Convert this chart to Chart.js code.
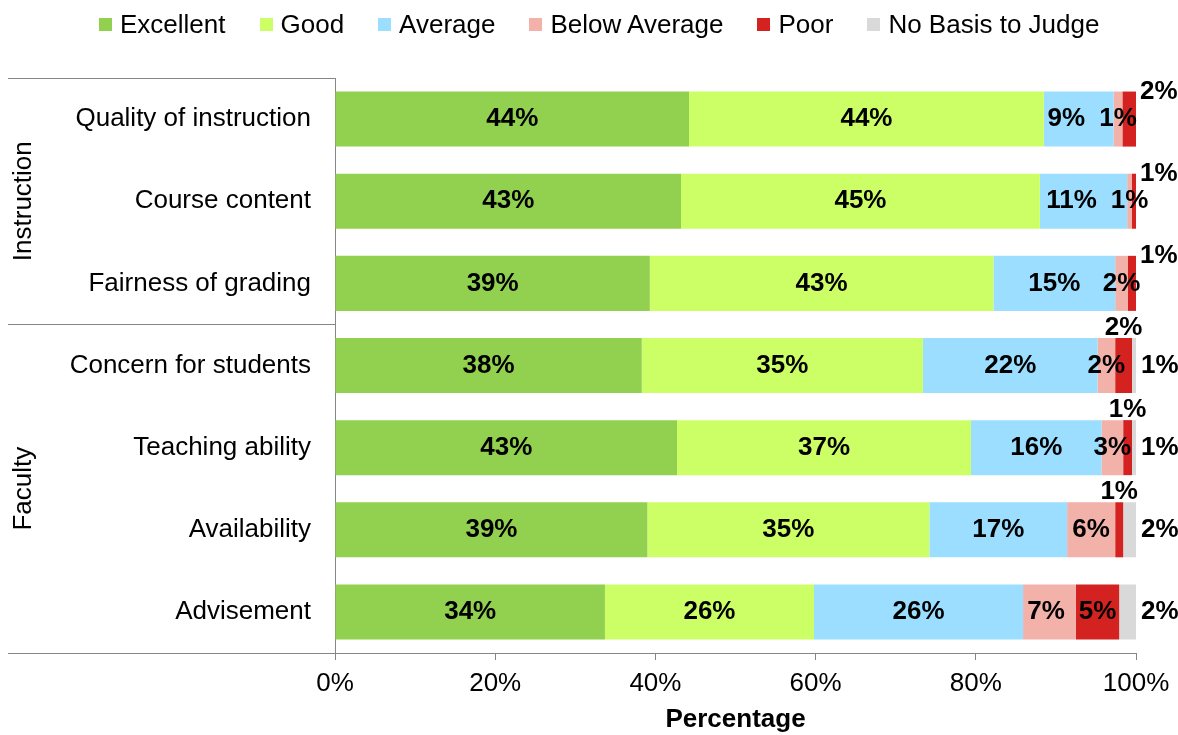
<!DOCTYPE html>
<html>
<head>
<meta charset="utf-8">
<script src="https://cdn.jsdelivr.net/npm/chart.js@4.4.1/dist/chart.umd.min.js"></script>
<style>
  body { margin: 0; background: #fff; }
  #wrap { position: relative; width: 1178px; height: 735px; }
  #legend {
    position: absolute; top: 9px; left: 99px;
    display: flex; font: 26px "Liberation Sans", Arial, sans-serif; color: #000;
  }
  #legend .item { display: flex; align-items: center; height: 30px; line-height: 30px; margin-right: 34px; white-space: nowrap; }
  #legend .box { width: 13px; height: 13px; margin: 1px 8px 0 0; }
</style>
</head>
<body>
<div id="wrap">
  <canvas id="chart" width="1178" height="735"></canvas>
  <div id="legend"></div>
</div>
<script>
const categories = ['Quality of instruction', 'Course content', 'Fairness of grading',
  'Concern for students', 'Teaching ability', 'Availability', 'Advisement'];
const groupNames = ['Instruction', 'Faculty'];
const groupSizes = [3, 4];

const seriesNames = ['Excellent', 'Good', 'Average', 'Below Average', 'Poor', 'No Basis to Judge'];
const seriesColors = ['#92D050', '#CCFF66', '#9BDEFF', '#F2B1A9', '#D3221F', '#D9D9D9'];

const excellent    = [44.2, 43.2, 39.3, 38.3, 42.7, 39.0, 33.7];
const good         = [44.3, 44.8, 42.9, 35.1, 36.7, 35.2, 26.1];
const average      = [8.7, 10.9, 15.2, 21.8, 16.3, 17.2, 26.1];
const belowAverage = [1.1, 0.6, 1.6, 2.2, 2.7, 6.0, 6.6];
const poor         = [1.7, 0.5, 1.0, 2.1, 1.1, 1.0, 5.4];
const noBasis      = [0, 0, 0, 0.5, 0.5, 1.6, 2.1];

const xTickValues = [0, 20, 40, 60, 80, 100];

const FONT = '"Liberation Sans", Arial, sans-serif';
const GRAY = '#868686';
const POOR = 4, NO_BASIS = 5;
const LABEL_GAP = 14;

// html legend
const legendEl = document.getElementById('legend');
seriesNames.forEach((name, i) => {
  const item = document.createElement('div');
  item.className = 'item';
  item.innerHTML = `<span class="box" style="background:${seriesColors[i]}"></span><span>${name}</span>`;
  legendEl.appendChild(item);
});

// percent labels on the stacked segments
const barLabels = {
  id: 'barLabels',
  afterDatasetsDraw(chart) {
    const ctx = chart.ctx;
    const datasets = chart.data.datasets;
    const lastMeta = chart.getDatasetMeta(datasets.length - 1);
    ctx.save();
    ctx.font = 'bold 26px ' + FONT;
    ctx.fillStyle = '#000';
    ctx.textBaseline = 'middle';

    chart.data.labels.forEach((_, i) => {
      const rowEnd = lastMeta.data[i].x;
      const inside = [];
      datasets.forEach((ds, di) => {
        const v = ds.data[i];
        if (!v) return;
        const bar = chart.getDatasetMeta(di).data[i];
        const { x, y, base, height } = bar.getProps(['x', 'y', 'base', 'height'], true);
        const text = Math.round(v) + '%';
        if (di === NO_BASIS) {
          ctx.textAlign = 'left';
          ctx.fillText(text, rowEnd + 5, y);
        } else if (di === POOR && v < 3) {
          if (noBasis[i] > 0) {
            ctx.textAlign = 'center';
            ctx.fillText(text, (x + base) / 2, y - height / 2 - 10);
          } else {
            ctx.textAlign = 'left';
            ctx.fillText(text, rowEnd + 4, y - height / 2);
          }
        } else {
          inside.push({ text, x: (x + base) / 2, y, w: ctx.measureText(text).width });
        }
      });
      // nudge crowded labels left so neighbours don't run together
      for (let k = inside.length - 2; k >= 0; k--) {
        const a = inside[k], b = inside[k + 1];
        const limit = b.x - b.w / 2 - LABEL_GAP - a.w / 2;
        if (a.x > limit) a.x = limit;
      }
      ctx.textAlign = 'center';
      inside.forEach(l => ctx.fillText(l.text, l.x, l.y));
    });
    ctx.restore();
  }
};

// group brackets on the left of the category axis
const groupAxis = {
  id: 'groupAxis',
  afterDraw(chart) {
    const ctx = chart.ctx;
    const yScale = chart.scales.y;
    const left = 8, right = chart.chartArea.left;
    ctx.save();
    ctx.strokeStyle = GRAY;
    ctx.lineWidth = 1;
    ctx.fillStyle = '#000';
    ctx.font = '26px ' + FONT;
    ctx.textAlign = 'center';
    ctx.textBaseline = 'middle';
    let start = 0;
    groupSizes.forEach((n, g) => {
      const top = yScale.getPixelForValue(start - 0.5);
      const bottom = yScale.getPixelForValue(start + n - 0.5);
      [top, bottom].forEach(py => {
        const yy = Math.round(py) + 0.5;
        ctx.beginPath();
        ctx.moveTo(left, yy);
        ctx.lineTo(right, yy);
        ctx.stroke();
      });
      ctx.save();
      ctx.translate(24, (top + bottom) / 2);
      ctx.rotate(-Math.PI / 2);
      ctx.fillText(groupNames[g], 0, 0);
      ctx.restore();
      start += n;
    });
    ctx.restore();
  }
};

const seriesData = [excellent, good, average, belowAverage, poor, noBasis];

new Chart(document.getElementById('chart'), {
  type: 'bar',
  data: {
    labels: categories,
    datasets: seriesNames.map((name, i) => ({
      label: name,
      data: seriesData[i],
      backgroundColor: seriesColors[i],
      borderWidth: 0,
      barPercentage: 0.67,
      categoryPercentage: 1
    }))
  },
  options: {
    indexAxis: 'y',
    responsive: false,
    animation: false,
    layout: { padding: { top: 78, right: 42, left: 0, bottom: 0 } },
    plugins: {
      legend: { display: false },
      tooltip: { enabled: false }
    },
    scales: {
      x: {
        stacked: true,
        min: 0,
        max: 100,
        afterBuildTicks: s => { s.ticks = xTickValues.map(v => ({ value: v })); },
        afterFit: s => { s.height = 82; },
        grid: { drawOnChartArea: false, drawTicks: true, tickLength: 7, color: GRAY },
        border: { display: true, color: GRAY },
        ticks: {
          padding: 8,
          color: '#000',
          font: { family: FONT, size: 26 },
          maxRotation: 0,
          callback: v => v + '%'
        },
        title: {
          display: true,
          text: 'Percentage',
          color: '#000',
          padding: { top: 0, bottom: 0 },
          font: { family: FONT, size: 26, weight: 'bold' }
        }
      },
      y: {
        stacked: true,
        afterFit: s => { s.width = 335; },
        grid: { display: false },
        border: { display: true, color: GRAY },
        ticks: {
          padding: 16,
          color: '#000',
          font: { family: FONT, size: 26 }
        }
      }
    }
  },
  plugins: [barLabels, groupAxis]
});
</script>
</body>
</html>
